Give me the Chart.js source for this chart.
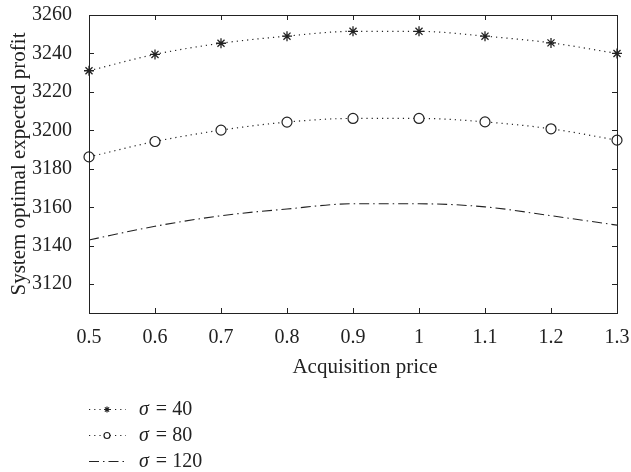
<!DOCTYPE html>
<html>
<head>
<meta charset="utf-8">
<script src="https://cdn.jsdelivr.net/npm/chart.js@4.4.1/dist/chart.umd.min.js"></script>
<style>
  html, body { margin: 0; padding: 0; background: #fff; }
  canvas { display: block; }
</style>
</head>
<body>
<canvas id="myChart" width="631" height="472"></canvas>
<script>
// acquisition price on the x axis
const precios = [0.5, 0.6, 0.7, 0.8, 0.9, 1.0, 1.1, 1.2, 1.3];

// system optimal expected profit, one list per sigma
const sigma40 = [3231, 3239.5, 3245.3, 3249, 3251.5, 3251.5, 3249, 3245.5, 3240];
const sigma80 = [3186.2, 3194.2, 3200.1, 3204.3, 3206.2, 3206.2, 3204.4, 3200.8, 3194.9];
const sigma120 = [3143, 3150.1, 3155.6, 3159.1, 3161.8, 3161.8, 3160.2, 3155.6, 3150.7];

const etiquetas = ['σ = 40', 'σ = 80', 'σ = 120'];
const tituloX = 'Acquisition price';

const fuente = 'Liberation Serif, Times New Roman, serif';
const tinta = '#222';

function puntos(valores) {
  return precios.map((p, i) => ({ x: p, y: valores[i] }));
}

// frame round the plot, inward ticks on all four sides, x title
const marcoPlugin = {
  id: 'marco',
  afterDraw(chart) {
    const ctx = chart.ctx;
    const a = chart.chartArea;
    const xs = chart.scales.x;
    const ys = chart.scales.y;
    ctx.save();
    ctx.strokeStyle = tinta;
    ctx.lineWidth = 1;
    ctx.strokeRect(a.left + 0.5, a.top + 0.5, a.right - a.left, a.bottom - a.top);
    ctx.beginPath();
    xs.ticks.forEach(t => {
      const px = Math.round(xs.getPixelForValue(t.value)) + 0.5;
      ctx.moveTo(px, a.bottom); ctx.lineTo(px, a.bottom - 5);
      ctx.moveTo(px, a.top); ctx.lineTo(px, a.top + 5);
    });
    ys.ticks.forEach(t => {
      const py = Math.round(ys.getPixelForValue(t.value)) + 0.5;
      ctx.moveTo(a.left, py); ctx.lineTo(a.left + 5, py);
      ctx.moveTo(a.right, py); ctx.lineTo(a.right - 5, py);
    });
    ctx.stroke();

    // the x title sits a little right of the plot centre in the original
    ctx.fillStyle = tinta;
    ctx.font = '21px ' + fuente;
    ctx.textAlign = 'center';
    ctx.textBaseline = 'middle';
    ctx.fillText(tituloX, (a.left + a.right) / 2 + 12, a.bottom + 54);
    ctx.restore();
  }
};

// legend under the chart: line sample, marker, italic sigma
const leyendaPlugin = {
  id: 'leyenda',
  afterDraw(chart) {
    const ctx = chart.ctx;
    const filas = [409, 435, 461];
    ctx.save();
    chart.data.datasets.forEach((ds, i) => {
      const y = filas[i] + 0.5;
      ctx.strokeStyle = ds.borderColor;
      ctx.lineWidth = ds.borderWidth;
      ctx.setLineDash(ds.borderDash);
      ctx.beginPath();
      ctx.moveTo(89, y);
      ctx.lineTo(126, y);
      ctx.stroke();
      ctx.setLineDash([]);
      if (ds.pointStyle === 'star') {
        ctx.strokeStyle = ds.pointBorderColor;
        Chart.helpers.drawPoint(ctx, { pointStyle: 'star', radius: 3, borderWidth: 1.2 }, 107, y);
      } else if (ds.pointStyle === 'circle') {
        ctx.fillStyle = '#fff';
        ctx.strokeStyle = ds.pointBorderColor;
        ctx.lineWidth = 1.2;
        ctx.beginPath();
        ctx.arc(107, y, 3, 0, Math.PI * 2);
        ctx.fill();
        ctx.stroke();
      }
      const partes = ds.label.split(' ');
      ctx.fillStyle = tinta;
      ctx.textBaseline = 'middle';
      ctx.font = 'italic 20px ' + fuente;
      ctx.fillText(partes[0], 139, y);
      const w = ctx.measureText(partes[0]).width;
      ctx.font = '20px ' + fuente;
      ctx.fillText(' = ' + partes[2], 139 + w + 2, y);
    });
    ctx.restore();
  }
};

const ctx = document.getElementById('myChart').getContext('2d');

new Chart(ctx, {
  type: 'line',
  data: {
    datasets: [{
      label: etiquetas[0],
      data: puntos(sigma40),
      borderColor: tinta,
      borderWidth: 1.2,
      borderDash: [1.2, 4],
      pointStyle: 'star',
      pointRadius: 5,
      pointBorderWidth: 1.3,
      pointBorderColor: tinta,
      pointBackgroundColor: tinta,
      tension: 0.4,
      cubicInterpolationMode: 'monotone'
    }, {
      label: etiquetas[1],
      data: puntos(sigma80),
      borderColor: tinta,
      borderWidth: 1.2,
      borderDash: [1.2, 4],
      pointStyle: 'circle',
      pointRadius: 5,
      pointBorderWidth: 1.2,
      pointBorderColor: tinta,
      pointBackgroundColor: '#fff',
      tension: 0.4,
      cubicInterpolationMode: 'monotone'
    }, {
      label: etiquetas[2],
      data: puntos(sigma120),
      borderColor: tinta,
      borderWidth: 1.1,
      borderDash: [10, 4, 1.5, 4],
      pointRadius: 0,
      tension: 0.4,
      cubicInterpolationMode: 'monotone'
    }]
  },
  options: {
    responsive: false,
    devicePixelRatio: 1,
    animation: false,
    clip: false,
    layout: { padding: { top: 15, right: 14, bottom: 91, left: 7 } },
    plugins: {
      legend: { display: false },
      tooltip: { enabled: false }
    },
    scales: {
      x: {
        type: 'linear',
        min: 0.5,
        max: 1.3,
        grid: { display: false },
        border: { display: false },
        ticks: {
          stepSize: 0.1,
          color: tinta,
          padding: 5,
          maxRotation: 0,
          font: { family: fuente, size: 20 },
          callback: v => String(Number(v.toFixed(1)))
        },
        afterFit: scale => {
          scale.height = 68;
          scale.paddingLeft = 0;
          scale.paddingRight = 0;
        }
      },
      y: {
        min: 3105,
        max: 3260,
        grid: { display: false },
        border: { display: false },
        ticks: {
          stepSize: 20,
          includeBounds: false,
          color: tinta,
          padding: 9,
          font: { family: fuente, size: 20 },
          callback: v => String(v)
        },
        title: {
          display: true,
          text: 'System optimal expected profit',
          color: tinta,
          padding: 0,
          font: { family: fuente, size: 21 }
        },
        afterFit: scale => {
          scale.width = 82;
          scale.paddingTop = 0;
          scale.paddingBottom = 0;
        }
      }
    }
  },
  plugins: [marcoPlugin, leyendaPlugin]
});
</script>
</body>
</html>
